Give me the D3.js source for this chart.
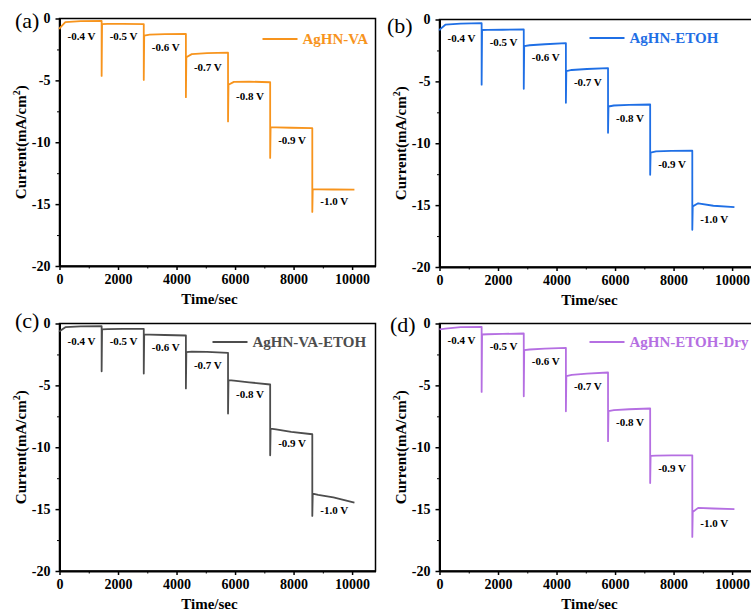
<!DOCTYPE html>
<html>
<head>
<meta charset="utf-8">
<script src="https://cdn.jsdelivr.net/npm/d3@7"></script>
<style>
  body { margin: 0; background: #fff; }
  svg text { font-family: "Liberation Serif", "Times New Roman", serif; }
</style>
</head>
<body>
<div id="chart"></div>
<script>
// step start times (s) and end of the run
const stepTimes = [0, 1440, 2880, 4320, 5760, 7200, 8640];
const endTime = 10080;
const voltages = ['-0.4 V', '-0.5 V', '-0.6 V', '-0.7 V', '-0.8 V', '-0.9 V', '-1.0 V'];
const xTicks = [0, 2000, 4000, 6000, 8000, 10000];
const yTicks = [0, -5, -10, -15, -20];

// current density (mA/cm2) per step: spike, plateau start, knee, middle, end
const spikeA = [-0.87, -4.64, -4.96, -6.36, -8.32, -11.27, -15.63];
const startA = [-0.75, -0.45, -1.38, -3.13, -5.36, -8.8, -13.78];
const kneeA = [-0.3, -0.44, -1.3, -2.88, -5.12, -8.8, -13.8];
const midA = [-0.22, -0.44, -1.27, -2.8, -5.1, -8.83, -13.82];
const endA = [-0.2, -0.45, -1.25, -2.76, -5.15, -8.86, -13.83];

const spikeB = [-0.89, -5.27, -5.6, -6.73, -9.15, -12.55, -16.99];
const startB = [-0.8, -0.85, -2.15, -4.17, -7.03, -10.75, -15.1];
const kneeB = [-0.42, -0.84, -2.08, -4.08, -6.95, -10.65, -14.85];
const midB = [-0.33, -0.83, -2.0, -4.0, -6.9, -10.62, -15.05];
const endB = [-0.3, -0.81, -1.91, -3.93, -6.87, -10.6, -15.16];

const spikeC = [-0.68, -3.86, -4.04, -5.25, -7.28, -10.65, -15.55];
const startC = [-0.6, -0.47, -0.89, -2.32, -4.58, -8.49, -13.74];
const kneeC = [-0.3, -0.45, -0.9, -2.27, -4.62, -8.55, -13.85];
const midC = [-0.24, -0.44, -0.93, -2.3, -4.75, -8.75, -14.05];
const endC = [-0.22, -0.43, -0.97, -2.37, -4.93, -8.95, -14.47];

const spikeD = [-0.49, -5.53, -5.88, -7.09, -9.51, -12.89, -17.25];
const startD = [-0.47, -0.89, -2.16, -4.26, -7.09, -10.7, -15.23];
const kneeD = [-0.42, -0.87, -2.1, -4.15, -7.0, -10.68, -14.9];
const midD = [-0.3, -0.84, -2.03, -4.05, -6.93, -10.66, -14.95];
const endD = [-0.27, -0.81, -1.97, -3.96, -6.87, -10.65, -15.0];

const panels = [
  { tag: '(a)', name: 'AgHN-VA', color: '#f7941d', left: 59.5, top: 18.5, tagX: 15, tagY: 28, legX: 203, legY: 20.5,
    spike: spikeA, start: startA, knee: kneeA, mid: midA, end: endA },
  { tag: '(b)', name: 'AgHN-ETOH', color: '#1f6fe5', left: 439.5, top: 19.5, tagX: 387, tagY: 33, legX: 150, legY: 18.5,
    spike: spikeB, start: startB, knee: kneeB, mid: midB, end: endB },
  { tag: '(c)', name: 'AgHN-VA-ETOH', color: '#4d4d4d', left: 59.5, top: 323.5, tagX: 15, tagY: 328, legX: 153, legY: 18.5,
    spike: spikeC, start: startC, knee: kneeC, mid: midC, end: endC },
  { tag: '(d)', name: 'AgHN-ETOH-Dry', color: '#b56fe2', left: 439.5, top: 323.5, tagX: 390, tagY: 332, legX: 150, legY: 18.5,
    spike: spikeD, start: startD, knee: kneeD, mid: midD, end: endD }
];

const width = 316, height = 247.5;

const svg = d3.select('#chart').append('svg')
  .attr('width', 751)
  .attr('height', 612);

panels.forEach(p => {
  const g = svg.append('g').attr('transform', `translate(${p.left},${p.top})`);

  const x = d3.scaleLinear().domain([0, 10800]).range([0, width]);
  const y = d3.scaleLinear().domain([-20, 0]).range([height, 0]);

  // frame
  g.append('rect')
    .attr('width', width).attr('height', height)
    .attr('fill', 'none').attr('stroke', '#000').attr('stroke-width', 1.5);

  // minor ticks
  g.append('g')
    .attr('transform', `translate(0,${height})`)
    .call(d3.axisBottom(x).tickValues([1000, 3000, 5000, 7000, 9000]).tickSize(2.5).tickFormat(''))
    .call(s => s.select('.domain').remove());
  g.append('g')
    .call(d3.axisLeft(y).tickValues([-2.5, -7.5, -12.5, -17.5]).tickSize(2.5).tickFormat(''))
    .call(s => s.select('.domain').remove());

  const xAxis = g.append('g')
    .attr('transform', `translate(0,${height})`)
    .call(d3.axisBottom(x).tickValues(xTicks).tickSize(4).tickPadding(4).tickSizeOuter(0).tickFormat(d => String(d)));
  const yAxis = g.append('g')
    .call(d3.axisLeft(y).tickValues(yTicks).tickSize(4).tickPadding(5).tickSizeOuter(0).tickFormat(d => String(d)));

  [xAxis, yAxis].forEach(a => {
    a.select('.domain').attr('stroke-width', 2);
    a.selectAll('.tick line').attr('stroke-width', 1.5);
    a.selectAll('text')
      .attr('font-size', 14).attr('font-weight', 'bold')
      .attr('font-family', '"Liberation Serif", serif').attr('fill', '#000');
  });

  // build the chronoamperometry trace
  const pts = [];
  stepTimes.forEach((t0, k) => {
    const t1 = k < stepTimes.length - 1 ? stepTimes[k + 1] : endTime;
    pts.push([t0, p.spike[k]]);
    pts.push([t0 + 15, p.start[k]]);
    pts.push([t0 + 200, p.knee[k]]);
    pts.push([(t0 + t1) / 2, p.mid[k]]);
    pts.push([t1, p.end[k]]);
  });

  g.append('path')
    .datum(pts)
    .attr('fill', 'none')
    .attr('stroke', p.color)
    .attr('stroke-width', 1.8)
    .attr('stroke-linejoin', 'round')
    .attr('d', d3.line().x(d => x(d[0])).y(d => y(d[1])));

  // step voltage labels, just under each plateau
  g.selectAll('.vlab')
    .data(voltages)
    .join('text')
    .attr('class', 'vlab')
    .attr('x', (d, k) => x(stepTimes[k]) + 8)
    .attr('y', (d, k) => y((p.start[k] + p.end[k]) / 2) + 16)
    .attr('font-size', 11)
    .attr('font-weight', 'bold')
    .attr('fill', '#000')
    .text(d => d);

  // legend
  g.append('line')
    .attr('x1', p.legX).attr('x2', p.legX + 35)
    .attr('y1', p.legY).attr('y2', p.legY)
    .attr('stroke', p.color).attr('stroke-width', 2);
  g.append('text')
    .attr('x', p.legX + 40).attr('y', p.legY + 5)
    .attr('font-size', 15).attr('font-weight', 'bold')
    .attr('fill', p.color)
    .text(p.name);

  // axis titles
  g.append('text')
    .attr('x', 150).attr('y', height + 38)
    .attr('text-anchor', 'middle')
    .attr('font-size', 15).attr('font-weight', 'bold')
    .text('Time/sec');

  const yt = g.append('text')
    .attr('transform', `translate(-34,${height / 2}) rotate(-90)`)
    .attr('text-anchor', 'middle')
    .attr('font-size', 15).attr('font-weight', 'bold');
  yt.append('tspan').text('Current(mA/cm');
  yt.append('tspan').attr('font-size', 10).attr('dy', -6).text('2');
  yt.append('tspan').attr('dy', 6).text(')');

  // panel tag
  svg.append('text')
    .attr('x', p.tagX).attr('y', p.tagY)
    .attr('font-size', 22)
    .text(p.tag);
});
</script>
</body>
</html>
